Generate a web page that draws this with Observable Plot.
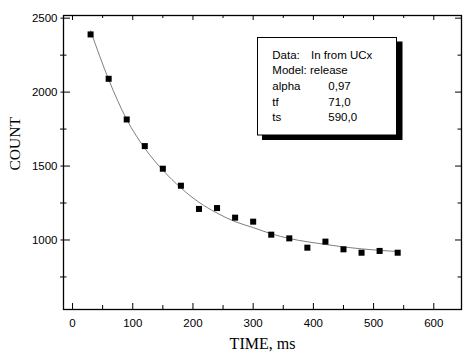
<!DOCTYPE html>
<html><head><meta charset="utf-8">
<script src="https://cdn.jsdelivr.net/npm/d3@7"></script>
<script src="https://cdn.jsdelivr.net/npm/@observablehq/plot@0.6"></script>
<style>body{margin:0;background:#fff} #chart{width:474px;height:353px}</style>
</head><body><div id="chart"></div>
<script>
// Measured data (TIME, ms -> COUNT)
const time  = [30, 60, 90, 120, 150, 180, 210, 240, 270, 300, 330, 360, 390, 420, 450, 480, 510, 540];
const count = [2390, 2090, 1815, 1635, 1482, 1367, 1210, 1216, 1151, 1124, 1036, 1011, 948, 989, 937, 914, 926, 914];
// Fitted "release" model curve
const fitTime  = [30, 60, 90, 120, 150, 180, 210, 240, 270, 300, 330, 360, 390, 420, 450, 480, 510, 540];
const fitCount = [2415, 2085, 1815, 1620, 1472, 1352, 1255, 1182, 1124, 1084, 1042, 1010, 988, 970, 953, 940, 930, 922];
// Axis ticks
const xMajor = [0, 100, 200, 300, 400, 500, 600];
const xMinor = [50, 150, 250, 350, 450, 550];
const yMajor = [1000, 1500, 2000, 2500];
const yMinor = [750, 1250, 1750, 2250];
// Legend box text
const legendLabels = ["Data:", "Model: release", "alpha", "tf", "ts"];
const legendValues = ["In from UCx", "", "0,97", "71,0", "590,0"];

const W = 474, H = 353, mL = 63, mR = 13, mT = 15, mB = 44;
const fw = W - mL - mR, fh = H - mT - mB;
const pts = time.map((t, i) => ({t, c: count[i]}));
const fit = fitTime.map((t, i) => ({t, c: fitCount[i]}));
const fmt = d3.format("d");

const plot = Plot.plot({
  width: W, height: H,
  marginLeft: mL, marginRight: mR, marginTop: mT, marginBottom: mB,
  style: {fontFamily: "'Liberation Sans', Arial, sans-serif", fontSize: "11.5px", color: "#000", background: "#fff"},
  x: {domain: [-15, 646]},
  y: {domain: [530, 2518]},
  marks: [
    Plot.line(fit, {x: "t", y: "c", stroke: "#707070", strokeWidth: 0.9, curve: "monotone-x"}),
    Plot.dot(pts, {x: "t", y: "c", symbol: "square", r: 3.4, fill: "#000", stroke: "none"}),
    // bottom ticks (inward)
    Plot.tickX(xMajor, {x: d => d, insetTop: fh - 6, stroke: "#000"}),
    Plot.tickX(xMinor, {x: d => d, insetTop: fh - 4, stroke: "#000"}),
    // top ticks (inward)
    Plot.tickX(xMajor, {x: d => d, insetBottom: fh - 5, stroke: "#000"}),
    Plot.tickX(xMinor, {x: d => d, insetBottom: fh - 3, stroke: "#000"}),
    // left ticks (crossing)
    Plot.tickY(yMajor, {y: d => d, insetLeft: -2.5, insetRight: fw - 7, stroke: "#000"}),
    Plot.tickY(yMinor, {y: d => d, insetLeft: -3, insetRight: fw - 3.5, stroke: "#000"}),
    // right ticks (inward)
    Plot.tickY(yMajor, {y: d => d, insetLeft: fw - 6, stroke: "#000"}),
    Plot.tickY(yMinor, {y: d => d, insetLeft: fw - 3.5, stroke: "#000"}),
    Plot.frame({stroke: "#000", strokeWidth: 1.3}),
    Plot.axisX(xMajor, {anchor: "bottom", tickSize: 0, tickPadding: 9, tickFormat: fmt, label: null}),
    Plot.axisY(yMajor, {anchor: "left", tickSize: 0, tickPadding: 6, tickFormat: fmt, label: null}),
    Plot.text(["TIME, ms"], {frameAnchor: "bottom", dy: 34, lineAnchor: "middle", fontFamily: "'Liberation Serif', 'Times New Roman', serif", fontSize: 16}),
    Plot.text(["COUNT"], {frameAnchor: "left", dx: -48, dy: 8, rotate: -90, lineAnchor: "middle", fontFamily: "'Liberation Serif', 'Times New Roman', serif", fontSize: 15.5})
  ]
});

// Legend / parameter box with drop shadow
const svg = d3.select(plot);
const g = svg.append("g").attr("text-anchor", "start");
g.append("rect").attr("x", 262).attr("y", 41.5).attr("width", 140.5).attr("height", 98.5).attr("fill", "#000");
g.append("rect").attr("x", 257.5).attr("y", 37.5).attr("width", 139).attr("height", 97.5)
  .attr("fill", "#fff").attr("stroke", "#000").attr("stroke-width", 1);
const base = [58.8, 74.4, 90, 105.6, 121.2];
legendLabels.forEach((lab, i) => {
  g.append("text").attr("x", 272.3).attr("y", base[i]).attr("text-anchor", "start")
    .attr("font-family", "'Liberation Sans', Arial, sans-serif")
    .attr("font-size", 11.5).attr("fill", "#000").text(lab);
  if (legendValues[i]) {
    g.append("text").attr("x", i === 0 ? 311 : 328.3).attr("y", base[i]).attr("text-anchor", "start")
      .attr("font-family", "'Liberation Sans', Arial, sans-serif")
      .attr("font-size", 11.5).attr("fill", "#000").text(legendValues[i]);
  }
});

document.getElementById("chart").appendChild(plot);
</script>
</body></html>
